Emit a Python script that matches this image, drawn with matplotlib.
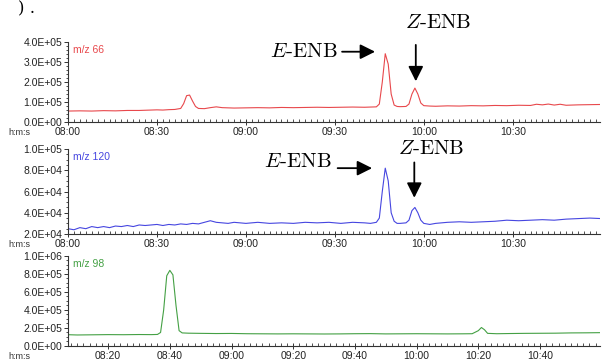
import numpy as np
import matplotlib
matplotlib.use("Agg")
import matplotlib.pyplot as plt
from matplotlib.ticker import MultipleLocator, FuncFormatter

plt.rcParams['font.family'] = ['Liberation Sans', 'DejaVu Sans']
plt.rcParams['mathtext.fontset'] = 'cm'

# time axis in seconds-like units, 480 -> "08:00"
t66 = [480, 484, 488, 492, 496, 500, 504, 508, 510, 512, 514, 516, 518, 519, 520, 521,
       522, 523, 524, 526, 528, 530, 532, 536, 540, 544, 548, 552, 556, 560, 564, 568,
       572, 576, 580, 582, 584, 585, 586, 587, 588, 589, 590, 591, 592, 594, 595, 596,
       597, 598, 599, 600, 602, 604, 608, 612, 616, 620, 624, 628, 632, 636, 638, 640,
       642, 644, 646, 648, 652, 656, 660]
i66 = [55, 56, 55, 57, 56, 58, 58, 60, 61, 60, 62, 63, 68, 92, 132, 135,
       105, 78, 68, 67, 72, 76, 72, 70, 71, 72, 71, 73, 72, 73, 74, 73,
       74, 75, 74, 75, 76, 90, 200, 342, 290, 140, 85, 78, 77, 78, 90, 140,
       170, 140, 95, 82, 80, 79, 81, 80, 82, 81, 83, 82, 84, 83, 89, 86,
       90, 85, 89, 84, 86, 87, 88]

t120 = [480, 482, 484, 486, 488, 490, 492, 494, 496, 498, 500, 502, 504, 506, 508, 510,
        512, 514, 516, 518, 520, 522, 524, 526, 528, 530, 532, 534, 536, 538, 540, 544,
        548, 552, 556, 560, 564, 568, 572, 576, 580, 582, 584, 585, 586, 587, 588, 589,
        590, 591, 592, 594, 595, 596, 597, 598, 599, 600, 602, 604, 608, 612, 616, 620,
        624, 628, 632, 636, 640, 644, 648, 652, 656, 660]
i120 = [25, 24, 26, 25, 27, 26, 27, 26, 27.5, 27, 28, 27, 28.5, 28, 28.5, 29,
        28, 29, 28.5, 29.5, 29, 30, 29.5, 31, 32.5, 31, 30.5, 30, 31, 30.5, 30, 31,
        30, 30.5, 30, 31, 30.5, 31, 30, 31, 30.5, 30, 31, 35, 60, 82, 70, 40,
        32, 30, 30, 30.5, 33, 42, 45, 40, 33, 30, 29, 30, 31, 31.5, 31, 31.5,
        32, 33, 32.5, 33, 33.5, 33, 34, 34.5, 35, 34.5]

t98 = [487, 490, 495, 500, 505, 510, 514, 516, 517, 518, 519, 520, 521, 522, 523, 524,
       526, 530, 535, 540, 545, 550, 555, 560, 565, 570, 575, 580, 585, 590, 595, 600,
       605, 610, 615, 618, 620, 621, 622, 623, 626, 630, 635, 640, 645, 650, 655, 660]
i98 = [125, 122, 124, 126, 125, 127, 126, 128, 150, 400, 780, 840, 790, 450, 170, 145,
       142, 140, 138, 139, 136, 135, 134, 135, 134, 133, 134, 136, 137, 134, 135, 136,
       135, 134, 135, 136, 170, 205, 180, 140, 136, 138, 140, 141, 142, 145, 146, 148]


def hms(v, pos):
    return "%02d:%02d" % (int(v // 60), int(round(v % 60)))


def sci(v, pos):
    return "%.1E" % v


fig = plt.figure(figsize=(6.02, 3.60), dpi=100)

panels = [
    (t66, i66, 1e3, '#e8484c', 'm/z 66', [0.113, 0.661, 0.884, 0.222], (0, 4e5), 1e5, 2e4, (480, 659.5), 30),
    (t120, i120, 1e3, '#4646e0', 'm/z 120', [0.113, 0.350, 0.884, 0.236], (2e4, 1e5), 2e4, 5e3, (480, 659.5), 30),
    (t98, i98, 1e3, '#44a044', 'm/z 98', [0.113, 0.039, 0.884, 0.250], (0, 1e6), 2e5, 5e4, (487, 659.5), 20),
]

axes = []
for t, y, sc, col, lab, rect, ylim, ymaj, ymin, xlim, xmaj in panels:
    ax = fig.add_axes(rect)
    ax.plot(t, np.array(y) * sc, color=col, lw=0.8)
    ax.set_xlim(*xlim)
    ax.set_ylim(*ylim)
    for s in ['top', 'right']:
        ax.spines[s].set_visible(False)
    for s in ['left', 'bottom']:
        ax.spines[s].set_color('#333333')
        ax.spines[s].set_linewidth(0.8)
    ax.xaxis.set_major_locator(MultipleLocator(xmaj))
    ax.xaxis.set_minor_locator(MultipleLocator(2))
    ax.xaxis.set_major_formatter(FuncFormatter(hms))
    ax.yaxis.set_major_locator(MultipleLocator(ymaj))
    ax.yaxis.set_minor_locator(MultipleLocator(ymin))
    ax.yaxis.set_major_formatter(FuncFormatter(sci))
    ax.tick_params(axis='x', which='major', direction='inout', length=5, width=0.7,
                   labelsize=7.5, pad=1, colors='#333333', labelcolor='#222222')
    ax.tick_params(axis='x', which='minor', direction='in', length=2.5, width=0.6, colors='#333333')
    ax.tick_params(axis='y', which='major', direction='out', length=3, width=0.7,
                   labelsize=7.5, pad=1, colors='#333333', labelcolor='#222222')
    ax.tick_params(axis='y', which='minor', direction='out', length=1.5, width=0.6, colors='#333333')
    ax.text(0.01, 0.97, lab, transform=ax.transAxes, color=col, fontsize=7.5, va='top', ha='left')
    ax.annotate('h:m:s', xy=(-0.071, 0), xycoords='axes fraction', xytext=(0, -4.5),
                textcoords='offset points', fontsize=6.5, color='#333333', va='top', ha='right')
    axes.append(ax)

ax1, ax2, ax3 = axes

# annotations
tkw = dict(fontsize=15, family='cmr10', color='black')
akw = dict(arrowstyle='-|>,head_length=0.9,head_width=0.45', color='black', lw=1.3)

ax1.annotate('', xy=(584.5, 3.52e5), xytext=(571.5, 3.52e5), arrowprops=akw)
ax1.text(571, 3.52e5, r'$E$-ENB', ha='right', va='center', **tkw)
ax1.annotate('', xy=(597.3, 1.9e5), xytext=(597.3, 4.0e5), arrowprops=akw, annotation_clip=False)
ax1.text(605, 4.95e5, r'$Z$-ENB', ha='center', va='center', clip_on=False, **tkw)

ax2.annotate('', xy=(583.5, 8.2e4), xytext=(570, 8.2e4), arrowprops=akw)
ax2.text(569, 8.8e4, r'$E$-ENB', ha='right', va='center', **tkw)
ax2.annotate('', xy=(596.8, 5.15e4), xytext=(596.8, 9.0e4), arrowprops=akw)
ax2.text(602.5, 1.0e5, r'$Z$-ENB', ha='center', va='center', clip_on=False, **tkw)

# caption remnant at top-left
fig.text(0.03, 0.998, ') .', fontsize=12, family='DejaVu Serif', va='top', ha='left')

fig.savefig('out.png', dpi=100)
